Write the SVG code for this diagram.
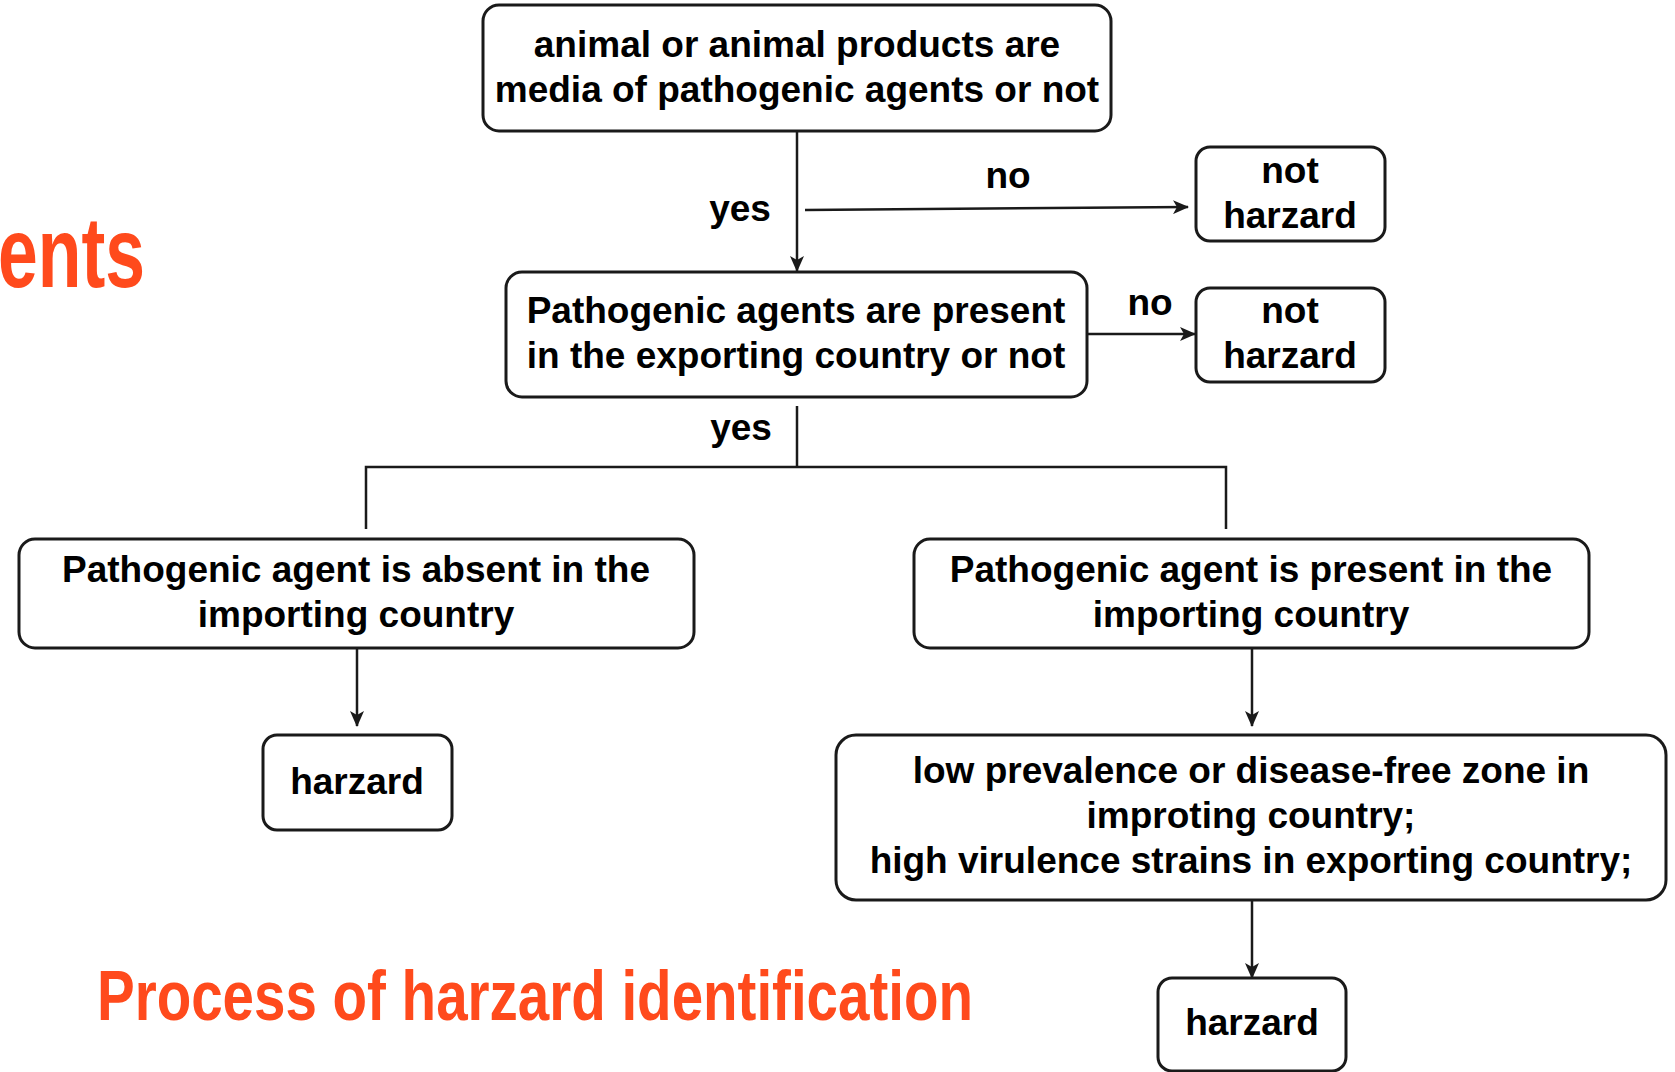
<svg xmlns="http://www.w3.org/2000/svg" width="1675" height="1072" viewBox="0 0 1675 1072">
<style>
.box{fill:#fff;stroke:#1a1a1a;stroke-width:3}
.t{font-family:"Liberation Sans",Arial,sans-serif;font-weight:bold;font-size:37px;fill:#000;text-anchor:middle}
.c{fill:none;stroke:#1a1a1a;stroke-width:2.5}
.o{font-family:"Liberation Sans",Arial,sans-serif;font-weight:bold;fill:#FF4A1C}
</style>
<defs>
<marker id="ah" viewBox="0 0 16 14" refX="15" refY="7" markerWidth="16" markerHeight="14" markerUnits="userSpaceOnUse" orient="auto">
<path d="M0,0 L16,7 L0,14 L4,7 z" fill="#1a1a1a"/>
</marker>
</defs>
<rect width="1675" height="1072" fill="#fff"/>
<text class="o" x="-2" y="287" font-size="100" textLength="147" lengthAdjust="spacingAndGlyphs">ents</text>
<text class="o" x="97" y="1020" font-size="70" textLength="876" lengthAdjust="spacingAndGlyphs">Process of harzard identification</text>
<g id="connectors">
<line class="c" x1="797" y1="131" x2="797" y2="271" marker-end="url(#ah)"/>
<line class="c" x1="805" y1="210" x2="1188" y2="207" marker-end="url(#ah)"/>
<line class="c" x1="1087" y1="334" x2="1195" y2="334" marker-end="url(#ah)"/>
<polyline class="c" points="797,406 797,467"/>
<polyline class="c" points="366,529 366,467 1226,467 1226,529"/>
<line class="c" x1="357" y1="649" x2="357" y2="726" marker-end="url(#ah)"/>
<line class="c" x1="1252" y1="649" x2="1252" y2="726" marker-end="url(#ah)"/>
<line class="c" x1="1252" y1="901" x2="1252" y2="978" marker-end="url(#ah)"/>
<text class="t" x="1008" y="188">no</text>
<text class="t" x="740" y="221">yes</text>
<text class="t" x="1150" y="315">no</text>
<text class="t" x="741" y="440">yes</text>
</g>
<g id="n1"><rect class="box" x="483" y="5" width="628" height="126" rx="16"/>
<text class="t" x="797" y="57">animal or animal products are</text>
<text class="t" x="797" y="102">media of pathogenic agents or not</text></g>
<g id="n2"><rect class="box" x="1196" y="147" width="189" height="94" rx="14"/>
<text class="t" x="1290" y="183">not</text>
<text class="t" x="1290" y="228">harzard</text></g>
<g id="n3"><rect class="box" x="506" y="272" width="581" height="125" rx="16"/>
<text class="t" x="796" y="323">Pathogenic agents are present</text>
<text class="t" x="796" y="368">in the exporting country or not</text></g>
<g id="n4"><rect class="box" x="1196" y="288" width="189" height="94" rx="14"/>
<text class="t" x="1290" y="323">not</text>
<text class="t" x="1290" y="368">harzard</text></g>
<g id="n5"><rect class="box" x="19" y="539" width="675" height="109" rx="16"/>
<text class="t" x="356" y="582">Pathogenic agent is absent in the</text>
<text class="t" x="356" y="627">importing country</text></g>
<g id="n6"><rect class="box" x="914" y="539" width="675" height="109" rx="16"/>
<text class="t" x="1251" y="582">Pathogenic agent is present in the</text>
<text class="t" x="1251" y="627">importing country</text></g>
<g id="n7"><rect class="box" x="263" y="735" width="189" height="95" rx="14"/>
<text class="t" x="357" y="794">harzard</text></g>
<g id="n8"><rect class="box" x="836" y="735" width="830" height="165" rx="20"/>
<text class="t" x="1251" y="783">low prevalence or disease-free zone in</text>
<text class="t" x="1251" y="828">improting country;</text>
<text class="t" x="1251" y="873">high virulence strains in exporting country;</text></g>
<g id="n9"><rect class="box" x="1158" y="978" width="188" height="93" rx="14"/>
<text class="t" x="1252" y="1035">harzard</text></g>
</svg>
